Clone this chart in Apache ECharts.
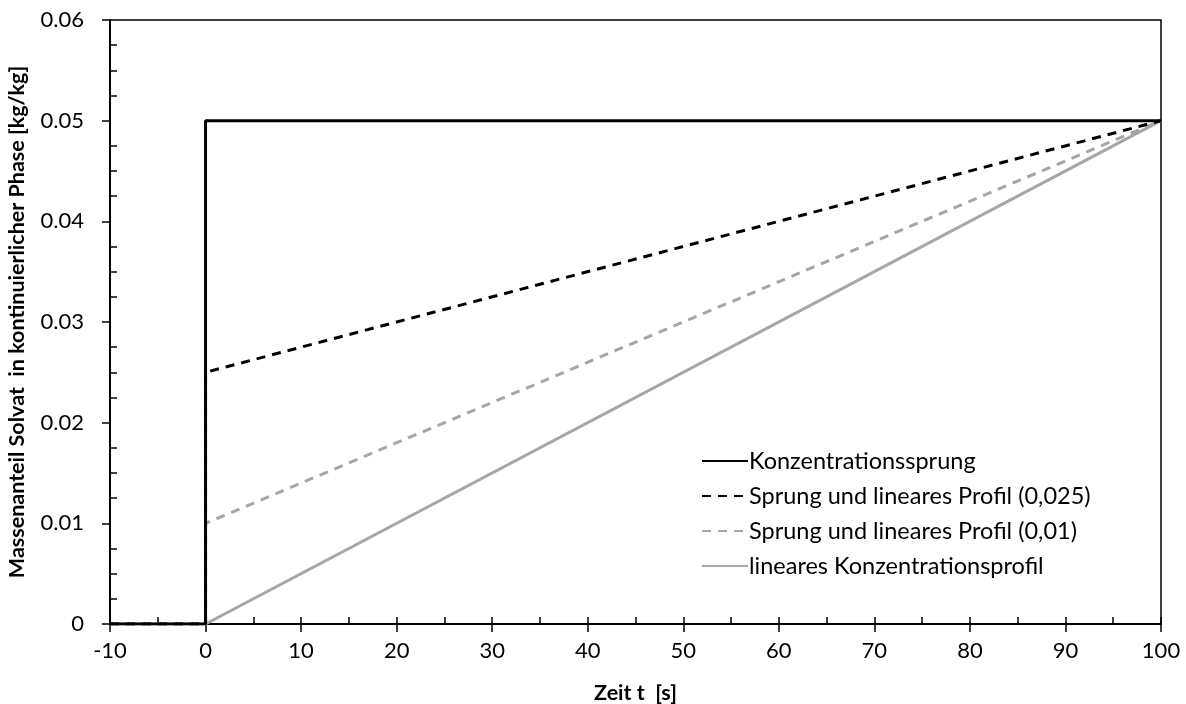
<!DOCTYPE html>
<html>
<head>
<meta charset="utf-8">
<script src="https://cdn.jsdelivr.net/npm/echarts@6/dist/echarts.min.js"></script>
<style>
  html, body { margin: 0; padding: 0; background: #fff; }
  #chart { width: 1186px; height: 704px; }
</style>
</head>
<body>
<div id="chart"></div>
<script>
// Zeitpunkte [s] und Massenanteile [kg/kg] der vier Eingangsprofile
const seriesNames = [
  'Konzentrationssprung',
  'Sprung und lineares Profil (0,025)',
  'Sprung und lineares Profil (0,01)',
  'lineares Konzentrationsprofil'
];
const tSprung = [-10, 0, 0, 100];
const wSprung = [0, 0, 0.05, 0.05];
const tSprung025 = [-10, 0, 0, 100];
const wSprung025 = [0, 0, 0.025, 0.05];
const tSprung01 = [-10, 0, 0, 100];
const wSprung01 = [0, 0, 0.01, 0.05];
const tLinear = [-10, 0, 100];
const wLinear = [0, 0, 0.05];

const xTicks = { min: -10, max: 100, step: 10, minorStep: 5 };
const yTicks = { min: 0, max: 0.06, step: 0.01, minorStep: 0.0025 };

const FONT = 'Lato';
const GRAY = '#a6a6a6';

function pairs(t, w) { return t.map((v, i) => [v, w[i]]); }

// minor y ticks between the labelled ones
const yMinor = [];
for (let k = 0; k * yTicks.minorStep <= yTicks.max + 1e-9; k++) {
  if (k % 4 !== 0) yMinor.push(+(k * yTicks.minorStep).toFixed(4));
}

const chart = echarts.init(document.getElementById('chart'), null, { renderer: 'canvas' });

chart.setOption({
  backgroundColor: '#fff',
  animation: false,
  grid: {
    left: 110, right: 25, top: 20, bottom: 80,
    containLabel: false, outerBoundsMode: 'none',
    show: true, borderColor: '#000', borderWidth: 1.5, backgroundColor: 'transparent'
  },
  legend: {
    orient: 'vertical',
    left: 696, top: 444,
    itemWidth: 46, itemHeight: 18, itemGap: 11,
    itemStyle: { opacity: 0, borderWidth: 0 },
    textStyle: { fontFamily: FONT, fontSize: 23.5, lineHeight: 23, color: '#000', padding: [0, 0, 0, -4] },
    data: seriesNames
  },
  xAxis: [
    {
      type: 'value', min: xTicks.min, max: xTicks.max, interval: xTicks.step,
      name: 'Zeit t  [s]', nameLocation: 'middle', nameGap: 58,
      nameTextStyle: { fontFamily: FONT, fontSize: 21.5, fontWeight: 'bold', color: '#000' },
      axisLine: { show: true, onZero: false, lineStyle: { color: '#000', width: 2 } },
      axisTick: { show: true, inside: false, length: 8, lineStyle: { color: '#000', width: 1.5 } },
      axisLabel: { fontFamily: FONT, fontSize: 22, color: '#000', margin: 16 },
      splitLine: { show: false }
    },
    {
      type: 'value', min: xTicks.min, max: xTicks.max, interval: xTicks.minorStep,
      position: 'bottom', gridIndex: 0,
      axisLine: { show: false, onZero: false },
      axisTick: { show: true, inside: true, length: 7, lineStyle: { color: '#000', width: 1.5 } },
      axisLabel: { show: false },
      splitLine: { show: false }
    }
  ],
  yAxis: [
    {
      type: 'value', min: yTicks.min, max: yTicks.max, interval: yTicks.step,
      name: 'Massenanteil Solvat  in kontinuierlicher Phase [kg/kg]',
      nameLocation: 'middle', nameGap: 82, nameRotate: 90,
      nameTextStyle: { fontFamily: FONT, fontSize: 21.5, fontWeight: 'bold', color: '#000' },
      axisLine: { show: true, onZero: false, lineStyle: { color: '#000', width: 2 } },
      axisTick: { show: true, inside: false, length: 8, lineStyle: { color: '#000', width: 1.5 } },
      axisLabel: {
        fontFamily: FONT, fontSize: 22, color: '#000', margin: 26,
        formatter: v => (v === 0 ? '0' : v.toFixed(2))
      },
      splitLine: { show: false }
    },
    {
      type: 'value', min: yTicks.min, max: yTicks.max,
      position: 'left',
      axisLine: { show: false, onZero: false },
      axisTick: { show: true, inside: true, length: 7, customValues: yMinor, lineStyle: { color: '#000', width: 1.5 } },
      axisLabel: { show: false },
      splitLine: { show: false }
    }
  ],
  series: [
    {
      name: seriesNames[3], type: 'line', symbol: 'none', z: 2,
      lineStyle: { color: GRAY, width: 3, type: 'solid' },
      itemStyle: { color: GRAY },
      data: pairs(tLinear, wLinear)
    },
    {
      name: seriesNames[2], type: 'line', symbol: 'none', z: 3,
      lineStyle: { color: GRAY, width: 3, type: [9, 7] },
      itemStyle: { color: GRAY },
      data: pairs(tSprung01, wSprung01)
    },
    {
      name: seriesNames[1], type: 'line', symbol: 'none', z: 4,
      lineStyle: { color: '#000', width: 3, type: [9, 7] },
      itemStyle: { color: '#000' },
      data: pairs(tSprung025, wSprung025)
    },
    {
      name: seriesNames[0], type: 'line', symbol: 'none', z: 5,
      lineStyle: { color: '#000', width: 3, type: 'solid' },
      itemStyle: { color: '#000' },
      data: pairs(tSprung, wSprung)
    }
  ]
});
</script>
</body>
</html>
